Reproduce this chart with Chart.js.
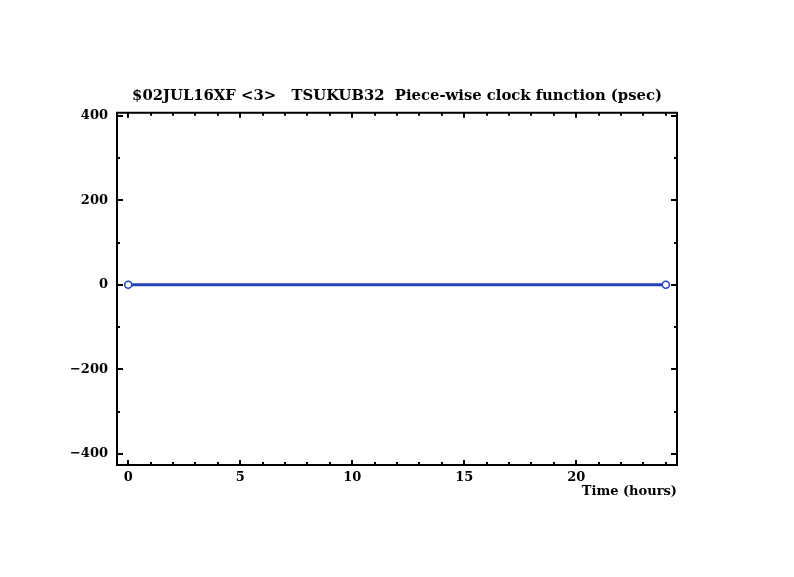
<!DOCTYPE html>
<html>
<head>
<meta charset="utf-8">
<script src="https://cdn.jsdelivr.net/npm/chart.js@4"></script>
<style>
  html, body { margin: 0; padding: 0; background: #fff; }
  #wrap { width: 794px; height: 577px; }
</style>
</head>
<body>
<div id="wrap"><canvas id="clock"></canvas></div>
<script>
// data
const timeHours = [0, 24]
const clockPsec = [0, 0]

const chartTitle = "$02JUL16XF <3>   TSUKUB32  Piece-wise clock function (psec)"
const xAxisTitle = "Time (hours)"

const xMajorTicks = [0, 5, 10, 15, 20]
const xMinorTicks = [0, 1, 2, 3, 4, 5, 6, 7, 8, 9, 10, 11, 12, 13, 14, 15, 16, 17, 18, 19, 20, 21, 22, 23, 24]
const yMajorTicks = [-400, -200, 0, 200, 400]
const yMinorTicks = [-400, -300, -200, -100, 0, 100, 200, 300, 400]
const yTickLabels = ["\u2212400", "\u2212200", "0", "200", "400"]

const fontFam = "'DejaVu Serif', 'Liberation Serif', serif"

// frame + inward tick marks on all four sides
const frameTicks = {
    id: "frameTicks",
    afterDatasetsDraw(chart) {
        const ctx = chart.ctx
        const a = chart.chartArea
        const xs = chart.scales.x
        const ys = chart.scales.y
        ctx.save()
        ctx.strokeStyle = "#000"
        ctx.lineWidth = 2
        ctx.strokeRect(a.left, a.top, a.right - a.left, a.bottom - a.top)
        ctx.beginPath()
        xMinorTicks.forEach(v => {
            const len = xMajorTicks.includes(v) ? 5 : 3
            const px = Math.round(xs.getPixelForValue(v))
            ctx.moveTo(px, a.bottom); ctx.lineTo(px, a.bottom - len)
            ctx.moveTo(px, a.top); ctx.lineTo(px, a.top + len)
        })
        yMinorTicks.forEach(v => {
            const len = yMajorTicks.includes(v) ? 6 : 3
            const py = Math.round(ys.getPixelForValue(v))
            ctx.moveTo(a.left, py); ctx.lineTo(a.left + len, py)
            ctx.moveTo(a.right, py); ctx.lineTo(a.right - len, py)
        })
        ctx.stroke()
        ctx.restore()
    }
}

new Chart(document.getElementById("clock"), {
    type: "scatter",
    data: {
        datasets: [{
            data: timeHours.map((t, i) => ({x: t, y: clockPsec[i]})),
            showLine: true,
            borderColor: "#2242c0",
            borderWidth: 3,
            pointRadius: 3.5,
            pointBackgroundColor: "#fff",
            pointBorderColor: "#2242c0",
            pointBorderWidth: 1.5
        }]
    },
    plugins: [frameTicks],
    options: {
        responsive: true,
        maintainAspectRatio: false,
        animation: false,
        layout: { padding: 0 },
        plugins: {
            legend: { display: false },
            tooltip: { enabled: false },
            title: {
                display: true,
                text: chartTitle,
                color: "#000",
                font: { family: fontFam, size: 14.8, weight: "bold", lineHeight: 1.2 },
                padding: { top: 87, bottom: 8 }
            }
        },
        scales: {
            x: {
                type: "linear",
                min: -0.5,
                max: 24.5,
                grid: { display: false, drawTicks: false },
                border: { display: false },
                afterBuildTicks: s => { s.ticks = xMajorTicks.map(v => ({value: v})) },
                afterFit: s => { s.height = 112 },
                ticks: {
                    color: "#000",
                    padding: 5,
                    maxRotation: 0,
                    font: { family: fontFam, size: 13, weight: "bold" }
                },
                title: {
                    display: true,
                    text: xAxisTitle,
                    align: "end",
                    color: "#000",
                    font: { family: fontFam, size: 13, weight: "bold", lineHeight: 1.2 },
                    padding: { top: 0, bottom: 78 }
                }
            },
            y: {
                min: -426,
                max: 407,
                grid: { display: false, drawTicks: false },
                border: { display: false },
                afterBuildTicks: s => { s.ticks = yMajorTicks.map(v => ({value: v})) },
                afterFit: s => { s.width = 117 },
                ticks: {
                    color: "#000",
                    padding: 9,
                    font: { family: fontFam, size: 13, weight: "bold" },
                    callback: (v) => yTickLabels[yMajorTicks.indexOf(v)]
                }
            },
            // empty right-hand axis, only keeps the right margin
            yRight: {
                position: "right",
                min: -426,
                max: 407,
                grid: { display: false, drawTicks: false },
                border: { display: false },
                ticks: { display: false },
                afterFit: s => { s.width = 117 }
            }
        }
    }
})
</script>
</body>
</html>
